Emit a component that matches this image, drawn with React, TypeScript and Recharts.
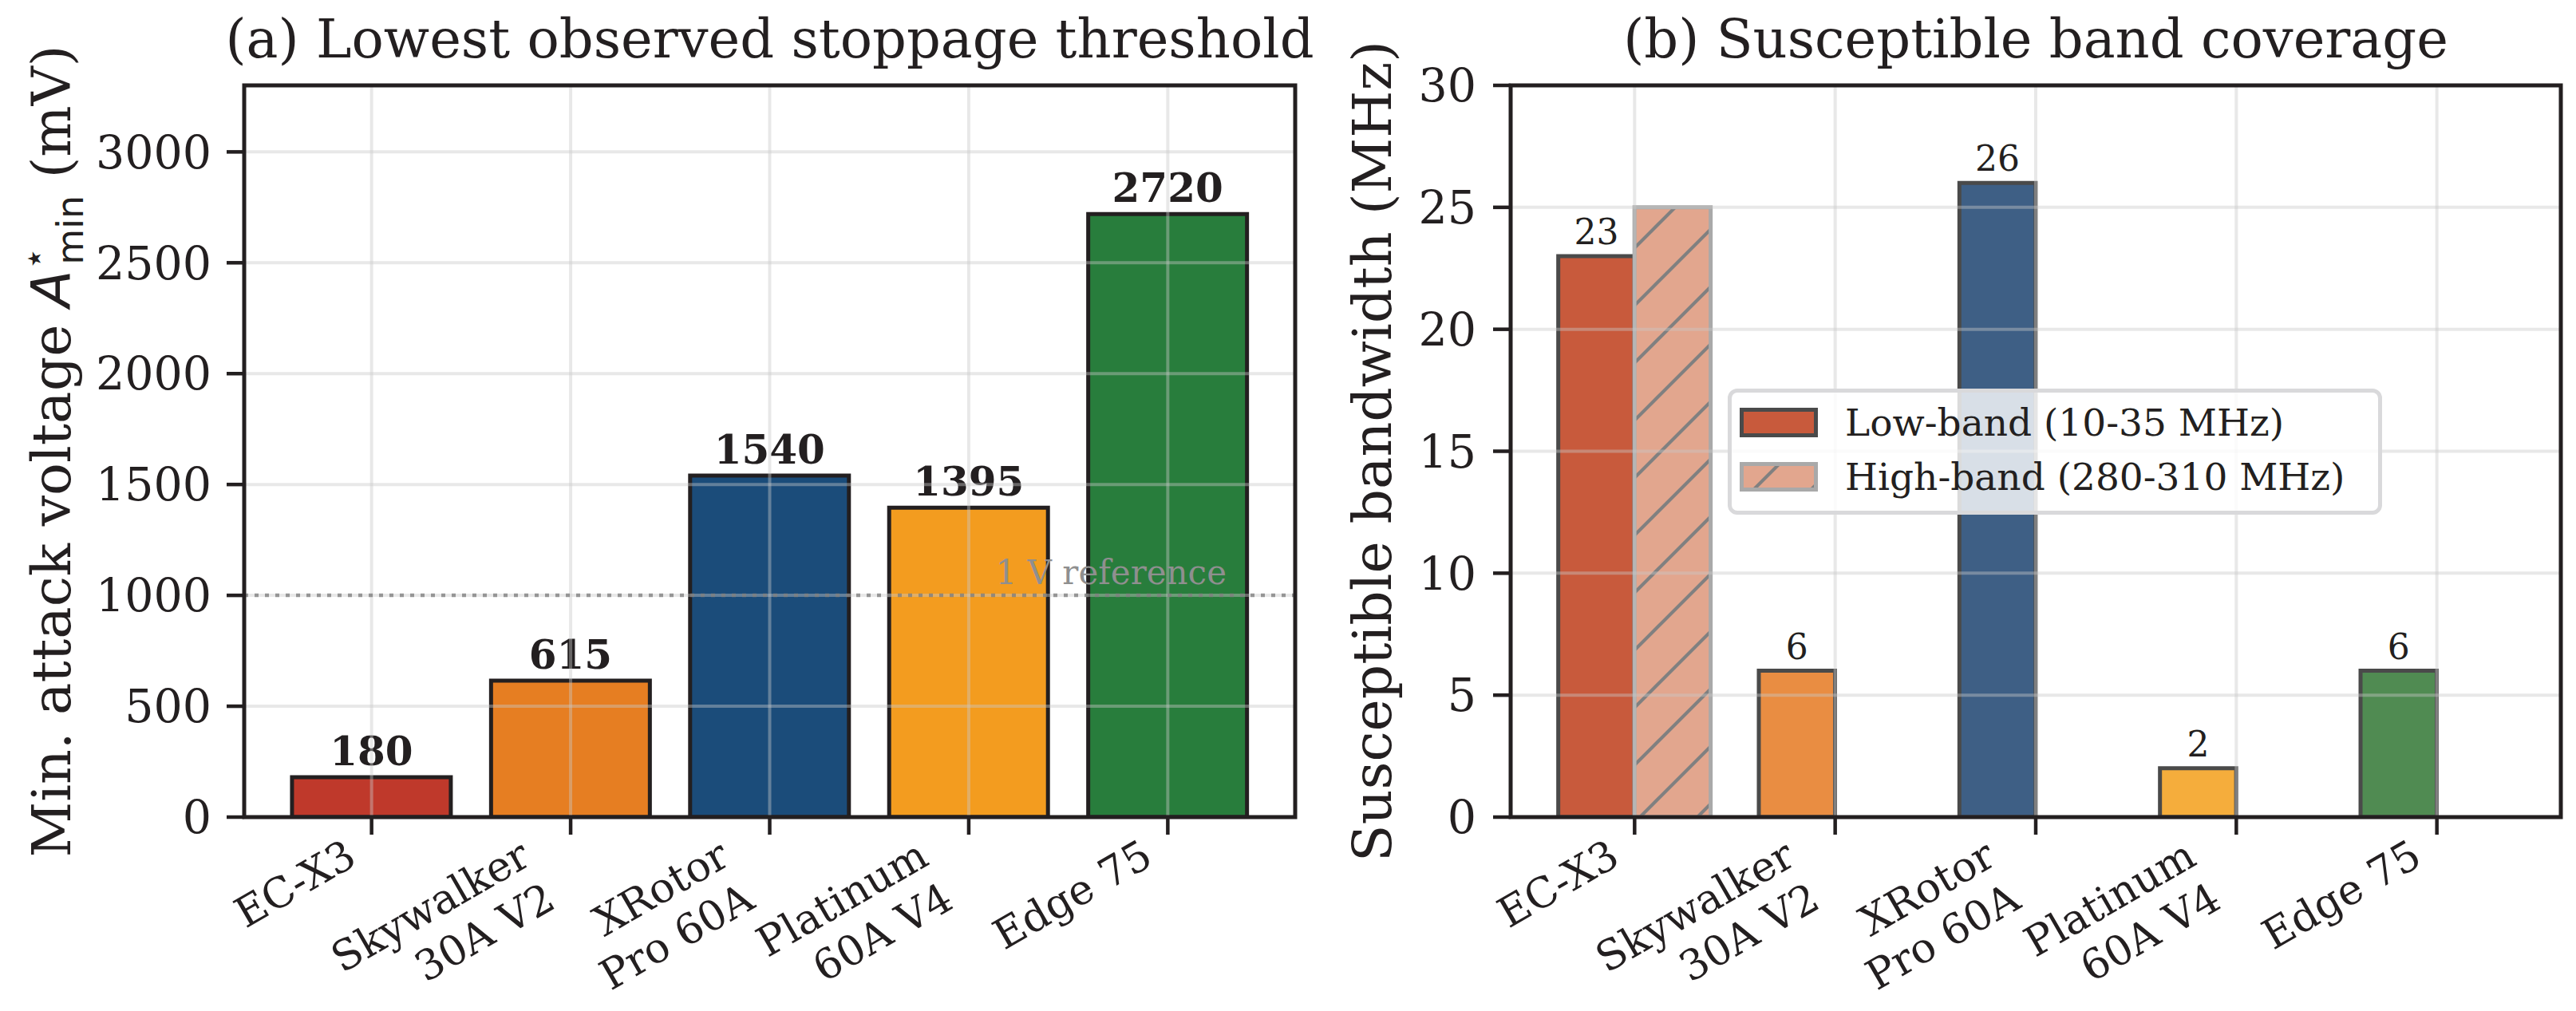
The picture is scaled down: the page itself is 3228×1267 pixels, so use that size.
import React from 'react';
import {
  BarChart,
  Bar,
  XAxis,
  YAxis,
  Cell,
  LabelList,
  ReferenceLine,
  ReferenceArea,
  Legend,
} from 'recharts';

// ---------- data ----------
const categories = ['EC-X3', 'Skywalker\n30A V2', 'XRotor\nPro 60A', 'Platinum\n60A V4', 'Edge 75'];
const minAttackVoltage = [180, 615, 1540, 1395, 2720];
const lowBandMHz = [23, 6, 26, 2, 6];
const highBandMHz = [25, 0, 0, 0, 0];
const voltageTicks = [0, 500, 1000, 1500, 2000, 2500, 3000];
const bandwidthTicks = [0, 5, 10, 15, 20, 25, 30];
const categoryTicks = [0, 1, 2, 3, 4];
const referenceVoltage = 1000;

// ---------- styles ----------
const solidColors = ['#BF392B', '#E67E22', '#1B4C7A', '#F39C1F', '#287D3C'];
const softColors = ['#C85A3C', '#E98D42', '#3E5F85', '#F5AD3C', '#508B52'];
const ink = '#231f20';
const serif = 'DejaVu Serif';
const sans = 'DejaVu Sans';
const gridStroke = '#c8c8c8';
const gridOpacity = 0.42;

const leftData = categories.map((name, i) => ({ idx: i, name, value: minAttackVoltage[i] }));
const rightData = categories.map((name, i) => ({ idx: i, name, low: lowBandMHz[i], high: highBandMHz[i] }));

const XTick = (props: any) => {
  const { x, y, payload } = props;
  const label: string = categories[payload?.value] ?? '';
  const lines = label.split('\n');
  const fs = 52;
  const L = fs * 1.2;
  const asc = 0.76 * fs;
  const desc = 0.24 * fs;
  const pad = 2;
  const ang = 30;
  const s = Math.sin((ang * Math.PI) / 180);
  const c = Math.cos((ang * Math.PI) / 180);
  const px = x - ((lines.length - 1) * L + desc) * s - 10;
  const py = y + pad + asc * c;
  return (
    <text
      x={px}
      y={py}
      transform={`rotate(-${ang} ${px} ${py})`}
      textAnchor="end"
      fontSize={fs}
      fontFamily={serif}
      fill={ink}
    >
      {lines.map((ln, i) => (
        <tspan key={i} x={px} dy={i === 0 ? 0 : L}>
          {ln}
        </tspan>
      ))}
    </text>
  );
};

const titleLabel = (text: string) => (props: any) => {
  const vb = props.viewBox || { x: 0, y: 0, width: 0, height: 0 };
  return (
    <text x={vb.x + vb.width / 2} y={vb.y - 35} textAnchor="middle" fontSize={67} fontFamily={serif} fill={ink}>
      {text}
    </text>
  );
};

const leftYLabel = (props: any) => {
  const vb = props.viewBox || { x: 0, y: 0, width: 0, height: 0 };
  const x = vb.x + 88;
  const y = vb.y + vb.height / 2;
  return (
    <text
      x={x}
      y={y}
      transform={`rotate(-90 ${x} ${y})`}
      textAnchor="middle"
      fontSize={68}
      fontFamily={serif}
      fill={ink}
    >
      {'Min. attack voltage '}
      <tspan fontFamily={sans} fontStyle="italic">A</tspan>
      <tspan fontFamily={sans} fontSize={46} dy={-30}>⋆</tspan>
      <tspan fontFamily={sans} fontSize={46} dx={-22} dy={46}>min</tspan>
      <tspan dy={-16}>{' (mV)'}</tspan>
    </text>
  );
};

const rightYLabel = (props: any) => {
  const vb = props.viewBox || { x: 0, y: 0, width: 0, height: 0 };
  const x = vb.x + 93;
  const y = vb.y + vb.height / 2;
  return (
    <text
      x={x}
      y={y}
      transform={`rotate(-90 ${x} ${y})`}
      textAnchor="middle"
      fontSize={68}
      fontFamily={serif}
      fill={ink}
    >
      Susceptible bandwidth (MHz)
    </text>
  );
};

const refLabel = (props: any) => {
  const vb = props.viewBox || { x: 0, y: 0, width: 0, height: 0 };
  return (
    <text x={vb.x + vb.width - 86} y={vb.y - 14} textAnchor="end" fontSize={42} fontFamily={serif} fill="#8f8f8f">
      1 V reference
    </text>
  );
};

const HatchSwatch = ({ id }: { id: string }) => (
  <svg width={98} height={37} style={{ display: 'block', flex: '0 0 auto' }}>
    <defs>
      <pattern id={id} patternUnits="userSpaceOnUse" width={72} height={72} x={-20} y={0}>
        <rect width={72} height={72} fill="#E2A68E" />
        <path d="M0,72 L72,0 M-18,18 L18,-18 M54,90 L90,54" stroke="#808080" strokeWidth={4.2} />
      </pattern>
    </defs>
    <rect x={2.5} y={2.5} width={93} height={32} fill={`url(#${id})`} stroke="#a9a9a9" strokeWidth={5} />
  </svg>
);

const SolidSwatch = () => (
  <svg width={98} height={37} style={{ display: 'block', flex: '0 0 auto' }}>
    <rect x={2.5} y={2.5} width={93} height={32} fill={softColors[0]} stroke="#4a4a4a" strokeWidth={5} />
  </svg>
);

const LegendBox = () => (
  <div
    style={{
      boxSizing: 'border-box',
      width: 820,
      height: 158,
      border: '5px solid #d9d9db',
      borderRadius: 12,
      background: 'rgba(255,255,255,0.8)',
      padding: '3px 10px 0 10px',
      fontFamily: serif,
      fontSize: 47,
      color: ink,
    }}
  >
    <div style={{ display: 'flex', alignItems: 'center', height: 68 }}>
      <SolidSwatch />
      <span style={{ marginLeft: 34, whiteSpace: 'nowrap' }}>Low-band (10-35 MHz)</span>
    </div>
    <div style={{ display: 'flex', alignItems: 'center', height: 68 }}>
      <HatchSwatch id="hatchLegend" />
      <span style={{ marginLeft: 34, whiteSpace: 'nowrap' }}>High-band (280-310 MHz)</span>
    </div>
  </div>
);

const tickLineStyle = { stroke: ink, strokeWidth: 4.5 };
const yTickStyle = { fontSize: 57, fill: ink, fontFamily: serif };

export default function App() {
  return (
    <div style={{ position: 'absolute', left: 0, top: 0, width: 3228, height: 1267, background: '#fff' }}>
      {/* Panel (a) */}
      <div style={{ position: 'absolute', left: 0, top: 0 }}>
        <BarChart width={1650} height={1267} data={leftData} margin={{ top: 107, right: 27, bottom: 0, left: 0 }}>
          <XAxis
            type="number"
            dataKey="idx"
            domain={[-0.64, 4.64]}
            allowDataOverflow
            ticks={categoryTicks}
            interval={0}
            tick={(p: any) => <XTick {...p} />}
            tickSize={22}
            tickMargin={0}
            tickLine={tickLineStyle}
            axisLine={false}
            height={243}
          />
          <YAxis
            type="number"
            domain={[0, 3300]}
            allowDataOverflow
            ticks={voltageTicks}
            interval={0}
            tick={yTickStyle}
            tickSize={22}
            tickMargin={19}
            tickLine={tickLineStyle}
            axisLine={false}
            width={306}
            label={leftYLabel}
          />
          <Bar dataKey="value" barSize={199} stroke={ink} strokeWidth={5} isAnimationActive={false}>
            {leftData.map((d, i) => (
              <Cell key={d.name} fill={solidColors[i]} stroke={ink} strokeWidth={5} />
            ))}
            <LabelList
              dataKey="value"
              position="top"
              offset={15}
              fontSize={50}
              fontWeight="bold"
              fontFamily={serif}
              fill={ink}
            />
          </Bar>
          {voltageTicks.slice(1).map((v) => (
            <ReferenceLine key={'gy' + v} y={v} stroke={gridStroke} strokeOpacity={gridOpacity} strokeWidth={4} zIndex={2100} />
          ))}
          {categoryTicks.map((v) => (
            <ReferenceLine key={'gx' + v} x={v} stroke={gridStroke} strokeOpacity={gridOpacity} strokeWidth={4} zIndex={2100} />
          ))}
          <ReferenceLine
            y={referenceVoltage}
            stroke="#808080"
            strokeOpacity={0.8}
            strokeWidth={4.5}
            strokeDasharray="5 8"
            label={refLabel}
            zIndex={2150}
          />
          <ReferenceArea
            x1={-0.64}
            x2={4.64}
            y1={0}
            y2={3300}
            fill="none"
            fillOpacity={0}
            stroke={ink}
            strokeWidth={5}
            label={titleLabel('(a) Lowest observed stoppage threshold')}
            zIndex={2200}
          />
        </BarChart>
      </div>

      {/* Panel (b) */}
      <div style={{ position: 'absolute', left: 1650, top: 0 }}>
        <BarChart
          width={1578}
          height={1267}
          data={rightData}
          margin={{ top: 107, right: 19, bottom: 0, left: 0 }}
          barGap={0}
        >
          <defs>
            <pattern id="hatchBar" patternUnits="userSpaceOnUse" width={72} height={72} x={61} y={0}>
              <rect width={72} height={72} fill="#E2A68E" />
              <path d="M0,72 L72,0 M-18,18 L18,-18 M54,90 L90,54" stroke="#808080" strokeWidth={4.2} />
            </pattern>
          </defs>
          <XAxis
            type="number"
            dataKey="idx"
            domain={[-0.618, 4.618]}
            allowDataOverflow
            ticks={categoryTicks}
            interval={0}
            tick={(p: any) => <XTick {...p} />}
            tickSize={22}
            tickMargin={0}
            tickLine={tickLineStyle}
            axisLine={false}
            height={243}
          />
          <YAxis
            type="number"
            domain={[0, 30]}
            allowDataOverflow
            ticks={bandwidthTicks}
            interval={0}
            tick={yTickStyle}
            tickSize={22}
            tickMargin={21}
            tickLine={tickLineStyle}
            axisLine={false}
            width={243}
            label={rightYLabel}
          />
          <Bar dataKey="low" barSize={95.5} stroke="#4a4a4a" strokeWidth={5} isAnimationActive={false}>
            {rightData.map((d, i) => (
              <Cell key={d.name} fill={softColors[i]} stroke="#4a4a4a" strokeWidth={5} />
            ))}
            <LabelList dataKey="low" position="top" offset={15} fontSize={44} fontFamily={serif} fill={ink} />
          </Bar>
          <Bar dataKey="high" barSize={95.5} fill="url(#hatchBar)" stroke="#a9a9a9" strokeWidth={5} isAnimationActive={false} />
          {bandwidthTicks.slice(1, -1).map((v) => (
            <ReferenceLine key={'gy' + v} y={v} stroke={gridStroke} strokeOpacity={gridOpacity} strokeWidth={4} zIndex={2100} />
          ))}
          {categoryTicks.map((v) => (
            <ReferenceLine key={'gx' + v} x={v} stroke={gridStroke} strokeOpacity={gridOpacity} strokeWidth={4} zIndex={2100} />
          ))}
          <ReferenceArea
            x1={-0.618}
            x2={4.618}
            y1={0}
            y2={30}
            fill="none"
            fillOpacity={0}
            stroke={ink}
            strokeWidth={5}
            label={titleLabel('(b) Susceptible band coverage')}
            zIndex={2200}
          />
          <Legend
            layout="horizontal"
            align="center"
            verticalAlign="middle"
            content={() => <LegendBox />}
            wrapperStyle={{ left: 515, top: 487, width: 820, height: 158 }}
          />
        </BarChart>
      </div>
    </div>
  );
}
